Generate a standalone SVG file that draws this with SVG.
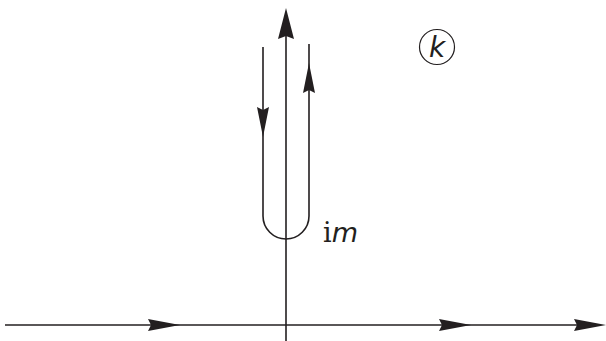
<svg xmlns="http://www.w3.org/2000/svg" width="606" height="341" viewBox="0 0 606 341">
  <style>
    .ln { stroke: #231f20; stroke-width: 1.6; fill: none; }
    .ah { fill: #231f20; stroke: none; }
    .lbl { font-family: "DejaVu Sans", "Liberation Sans", sans-serif; fill: #231f20; }
  </style>
  <defs>
    <path id="headUp" d="M0,0 L8,31 L0,28 L-8,31 Z"/>
    <path id="headRight" d="M0,0 L-32,-6 L-29,0 L-32,6 Z"/>
    <path id="headSmallV" d="M0,0 L6,30 L0,27 L-6,30 Z"/>
  </defs>
  <g id="axes">
    <line class="ln" x1="5" y1="325" x2="596" y2="325"/>
    <line class="ln" x1="286" y1="30" x2="286" y2="341"/>
    <use href="#headUp" x="286" y="8" class="ah"/>
    <use href="#headRight" x="180" y="325" class="ah"/>
    <use href="#headRight" x="471" y="325" class="ah"/>
    <use href="#headRight" x="606" y="325" class="ah"/>
  </g>
  <g id="contour">
    <path class="ln" d="M263,47 L263,216 A23,23 0 0 0 309,216 L309,44"/>
    <use href="#headSmallV" transform="translate(263,137) rotate(180)" class="ah"/>
    <use href="#headSmallV" x="309" y="63" class="ah"/>
  </g>
  <g id="label-im">
    <text class="lbl" x="323" y="242" font-size="27"><tspan font-family="DejaVu Serif, serif">i</tspan><tspan font-style="italic">m</tspan></text>
  </g>
  <g id="label-k">
    <circle cx="437" cy="47" r="17.5" fill="none" stroke="#231f20" stroke-width="1.2"/>
    <text class="lbl" x="437" y="57" font-size="28" font-style="italic" text-anchor="middle">k</text>
  </g>
</svg>
